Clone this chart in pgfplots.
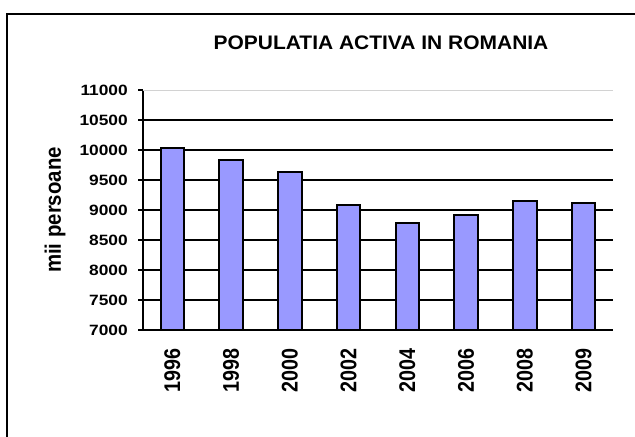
\documentclass[border=0pt]{standalone}
\usepackage{pgfplots}
\pgfplotsset{compat=1.18}
\usepackage{fontspec}
\setmainfont{Liberation Sans}
\definecolor{barblue}{HTML}{9999FF}
\newcommand\yl[1]{\scalebox{1.16}[1]{#1}}
\newcommand\xl[1]{\scalebox{1}[1.15]{#1}}
\begin{document}
\begin{tikzpicture}
\useasboundingbox (0,0) rectangle (476.25pt,327pt);
\draw[line width=1.6pt] (5.4pt,-20pt) -- (5.4pt,316.5pt) -- (500pt,316.5pt);
\node[font=\fontsize{14.7}{16}\selectfont\bfseries] at (285.75pt,295.1pt) {\scalebox{1.07}[1]{POPULATIA ACTIVA IN ROMANIA}};
\node[font=\fontsize{15.3}{17}\selectfont\bfseries, rotate=90] at (41.25pt,169.5pt) {\scalebox{1}[1.1]{mii persoane}};
\begin{axis}[
  at={(107.25pt,79.5pt)}, anchor=south west,
  scale only axis, width=352.5pt, height=180pt,
  xmin=-0.5, xmax=7.5, ymin=7000, ymax=11000,
  axis x line*=bottom, axis y line*=left,
  axis line style={line width=1.5pt, -},
  xtick={0,...,7},
  xticklabels={\xl{1996},\xl{1998},\xl{2000},\xl{2002},\xl{2004},\xl{2006},\xl{2008},\xl{2009}},
  major x tick style={draw=none},
  extra x ticks={-0.5,0.5,...,7.5},
  extra x tick labels={},
  extra x tick style={tick align=outside, major tick length=4.5pt, tick style={line width=1.5pt, black}},
  ytick={7000,7500,...,11000},
  scaled y ticks=false,
  yticklabels={\yl{7000},\yl{7500},\yl{8000},\yl{8500},\yl{9000},\yl{9500},\yl{10000},\yl{10500},\yl{11000}},
  extra y ticks={7500,8000,...,10500},
  extra y tick labels={},
  extra y tick style={ymajorgrids=true, major grid style={line width=1.5pt, black}, major tick length=0pt},
  y tick style={line width=1.5pt, black},
  tick align=outside, major tick length=3.75pt,
  yticklabel style={font=\fontsize{11.2}{13}\selectfont\bfseries, anchor=east, inner sep=0pt, xshift=-7.5pt},
  xticklabel style={yshift=-10pt, rotate=90, anchor=east, inner sep=0pt, font=\fontsize{14.8}{16}\selectfont\bfseries},
  clip=false,
]
\draw[gray!35, line width=0.7pt] (rel axis cs:0,1) -- (rel axis cs:1,1);
\addplot[ybar, bar width=0.4, fill=barblue, draw=black, line width=1.5pt]
  coordinates {(0,10030) (1,9830) (2,9630) (3,9080) (4,8790) (5,8920) (6,9150) (7,9110)};
\end{axis}
\end{tikzpicture}
\end{document}
